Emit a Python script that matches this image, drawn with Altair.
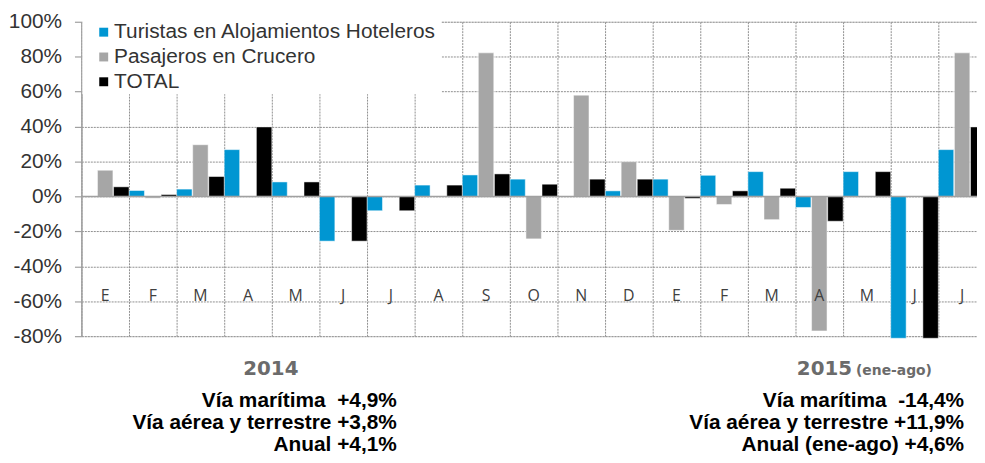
import altair as alt
import pandas as pd

months = ["E", "F", "M", "A", "M", "J", "J", "A", "S", "O", "N", "D",
          "E", "F", "M", "A", "M", "J", "J"]
series_names = ["Turistas en Alojamientos Hoteleros", "Pasajeros en Crucero", "TOTAL"]
series_colors = ["#0096D2", "#A6A6A6", "#000000"]
turistas = [None, 3.4, 4.2, 26.8, 8.3, -25.6, -8.2, 6.5, 12.3, 9.9, None, 3.2,
            9.9, 12.1, 14.2, -6.3, 14.2, -81.2, 26.8]
crucero = [15.0, -1.0, 29.6, None, None, None, None, None, 82.2, -24.3, 58.0, 19.9,
           -19.4, -4.6, -13.3, -77.0, None, None, 82.2]
total = [5.5, 1.1, 11.4, 39.8, 8.3, -25.6, -8.2, 6.5, 12.9, 7.0, 9.9, 9.9,
         -1.1, 3.2, 4.7, -14.2, 14.2, -81.2, 39.8]
y_ticks = [-80, -60, -40, -20, 0, 20, 40, 60, 80, 100]

header_2014 = "2014"
lines_2014 = ["Vía marítima\u00a0 +4,9%", "Vía aérea y terrestre +3,8%", "Anual +4,1%"]
header_2015 = "2015"
header_2015_sub = "(ene-ago)"
lines_2015 = ["Vía marítima\u00a0 -14,4%", "Vía aérea y terrestre +11,9%", "Anual (ene-ago) +4,6%"]

keys = [f"{i:02d}" for i in range(len(months))]
rows = []
for name, vals in zip(series_names, [turistas, crucero, total]):
    for k, v in zip(keys, vals):
        if v is not None:
            rows.append({"key": k, "serie": name, "valor": v})
bars_df = pd.DataFrame(rows)
months_df = pd.DataFrame({"key": keys, "mes": months})

W, H = 903, 317
xscale = alt.Scale(domain=keys, range=[0, 912], paddingInner=0, paddingOuter=0)
yscale = alt.Scale(domain=[-80, 100], nice=False, zero=False)

grid_color = "#8F8F8F"
axis_color = "#A0A0A0"

y_axis = alt.Axis(values=y_ticks, labelExpr="datum.value + '%'", title=None,
                  labelOverlap=False,
                  grid=True, gridDash=[2, 1], gridColor=grid_color, gridWidth=1,
                  domainColor=axis_color, domainWidth=1.5,
                  tickColor=axis_color, tickSize=7, tickWidth=1.2,
                  labelFontSize=21, labelFont="Liberation Sans",
                  labelColor="#333333", labelPadding=13)
x_axis = alt.Axis(labels=False, ticks=False, domain=False, title=None,
                  grid=True, bandPosition=0, gridDash=[2, 1],
                  gridColor=grid_color, gridWidth=1)

bars = alt.Chart(bars_df).mark_bar(stroke="white", strokeWidth=0.5).encode(
    x=alt.X("key:N", scale=xscale, axis=x_axis),
    xOffset=alt.XOffset("serie:N", sort=series_names,
                        scale=alt.Scale(domain=series_names, paddingInner=0.04, paddingOuter=0)),
    y=alt.Y("valor:Q", scale=yscale, axis=y_axis),
    color=alt.Color("serie:N", sort=series_names,
                    scale=alt.Scale(domain=series_names, range=series_colors),
                    legend=alt.Legend(title=None, orient="none", legendX=12, legendY=0,
                                      symbolType="square", symbolSize=81,
                                      symbolStrokeWidth=0, labelFontSize=21,
                                      labelFont="Liberation Sans", labelColor="#333333",
                                      labelOffset=0, rowPadding=3, padding=0,
                                      labelLimit=500)),
)

legend_bg = alt.Chart(pd.DataFrame({"a": [0]})).mark_rect(color="white").encode(
    x=alt.value(1), x2=alt.value(363), y=alt.value(-3), y2=alt.value(73)
)

zero_rule = alt.Chart(pd.DataFrame({"a": [0]})).mark_rule(color=axis_color, strokeWidth=1.5).encode(
    y=alt.YDatum(0, type="quantitative", scale=yscale, axis=y_axis)
)

month_text = alt.Chart(months_df).mark_text(
    font="Open Sans", fontSize=16, color="#404040", baseline="alphabetic", dy=0
).encode(
    x=alt.X("key:N", scale=xscale, axis=x_axis),
    y=alt.YDatum(-60, type="quantitative", scale=yscale, axis=y_axis),
    text="mes:N",
)

one = pd.DataFrame({"a": [0]})


def line_text(txt, x, y, size=21, color="#000000", align="right", font="Liberation Sans"):
    return alt.Chart(one).mark_text(font=font, fontWeight="bold", fontSize=size,
                                    color=color, align=align, baseline="alphabetic").encode(
        x=alt.value(x), y=alt.value(y), text=alt.value(txt))


layers = [legend_bg, bars, zero_rule, month_text]
layers.append(line_text(header_2014, 191, 356, size=20, color="#6B6B6B", align="center",
                        font="DejaVu Sans"))
layers.append(line_text(header_2015, 777, 356, size=20, color="#6B6B6B", align="right",
                        font="DejaVu Sans"))
layers.append(line_text(header_2015_sub, 781, 356, size=14, color="#6B6B6B", align="left",
                        font="DejaVu Sans"))
line_y = [388, 410.5, 433]
for txt, yy in zip(lines_2014, line_y):
    layers.append(line_text(txt, 318, yy))
for txt, yy in zip(lines_2015, line_y):
    layers.append(line_text(txt, 890, yy))

chart = alt.layer(*layers).properties(
    width=W, height=H,
    autosize=alt.AutoSizeParams(type="none"),
    padding={"left": 74, "top": 12, "right": 0, "bottom": 126},
).configure_view(stroke="transparent").configure(background="white")

chart.save("out.html", embed_options={"renderer": "svg", "actions": False})
